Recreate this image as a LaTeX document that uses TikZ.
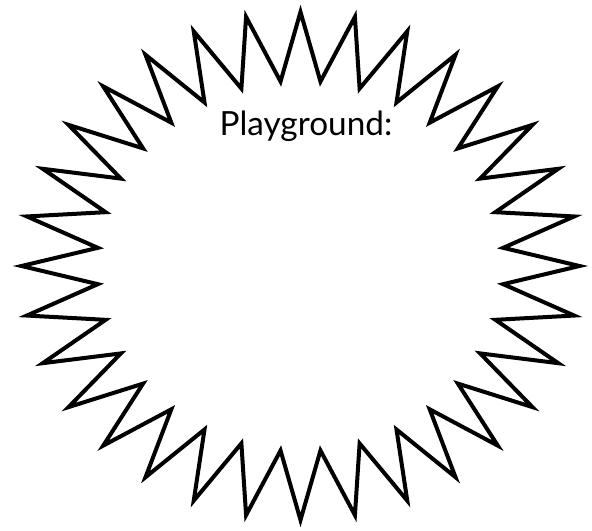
\documentclass[tikz,border=0pt]{standalone}
\usepackage{fontspec}
\setmainfont{Lato}
\usepackage{tikz}

\begin{document}
\begin{tikzpicture}[x=0.75pt, y=-0.75pt,
  burst/.style={black, line width=3pt, line join=miter, miter limit=20}]
  \useasboundingbox (0,0) rectangle (592,531);
  % the burst: 32 spikes round an ellipse
  \draw[burst] plot[samples at={0,...,63}]
    ({300.5+279*(1-0.27*mod(\x,2))*sin(\x*5.625)},
     {266-254*(1-0.27*mod(\x,2))*cos(\x*5.625)}) -- cycle;
  \node[font=\fontsize{25}{30}\selectfont, anchor=base, inner sep=0pt] (title) at (306,136) {Playground:};
\end{tikzpicture}
\end{document}
